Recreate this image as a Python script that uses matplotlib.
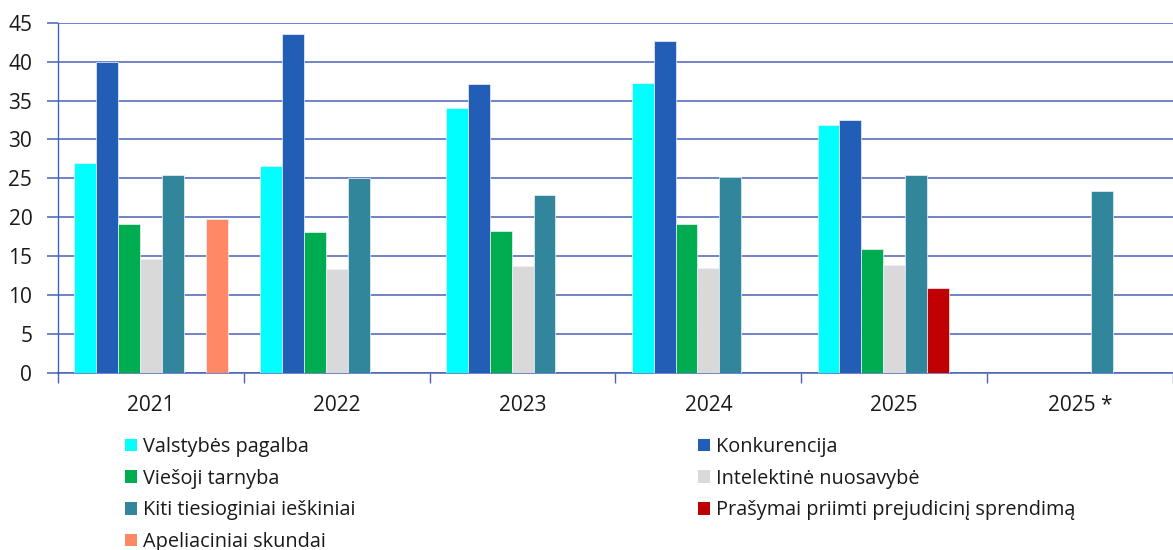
import numpy as np
import matplotlib
matplotlib.use('Agg')
import matplotlib.pyplot as plt
from matplotlib.patches import Patch

plt.rcParams['font.family'] = ['Open Sans', 'DejaVu Sans']

years = ['2021', '2022', '2023', '2024', '2025', '2025 *']
series = ['Valstybės pagalba', 'Konkurencija', 'Viešoji tarnyba',
          'Intelektinė nuosavybė', 'Kiti tiesioginiai ieškiniai',
          'Prašymai priimti prejudicinį sprendimą', 'Apeliaciniai skundai']
colors = ['#00FFFF', '#225EB6', '#00AC50', '#D9D9D9', '#31869B', '#C00000', '#FF8866']

valstybes = [27.0, 26.6, 34.1, 37.2, 31.8, np.nan]
konkurencija = [40.0, 43.6, 37.1, 42.6, 32.5, np.nan]
viesoji = [19.1, 18.1, 18.2, 19.1, 15.9, np.nan]
intelektine = [14.7, 13.4, 13.7, 13.5, 13.9, np.nan]
kiti = [25.4, 25.1, 22.9, 25.2, 25.4, 23.4]
prasymai = [np.nan, np.nan, np.nan, np.nan, 10.9, np.nan]
apeliaciniai = [19.8, np.nan, np.nan, np.nan, np.nan, np.nan]
values = [valstybes, konkurencija, viesoji, intelektine, kiti, prasymai, apeliaciniai]

fig = plt.figure(figsize=(11.73, 5.5), dpi=100)
ax = fig.add_axes([58/1173, 1-373/550, 1-58/1173, (373-22.7)/550])

grid_c = '#4862B8'
txt_c = '#1a1a1a'
x = np.arange(len(years))
w = 0.118
for k, (vals, c) in enumerate(zip(values, colors)):
    ax.bar(x + (k - 3) * w, vals, w, color=c, edgecolor='#eef2fa', linewidth=0.5, zorder=3)

ax.set_xlim(-0.5, len(years) - 0.5)
ax.set_ylim(0, 45)
ax.set_yticks(range(0, 46, 5))
ax.yaxis.grid(True, color=grid_c, linewidth=1.1, zorder=0)
ax.set_axisbelow(True)

ax.set_xticks(np.arange(-0.5, len(years), 1.0))
ax.set_xticklabels([])
ax.set_xticks(x, minor=True)
ax.set_xticklabels(years, minor=True)
ax.tick_params(axis='x', which='major', length=7, color=grid_c, width=1)
ax.tick_params(axis='x', which='minor', length=0, pad=16, labelsize=15, labelcolor=txt_c)
ax.tick_params(axis='y', length=8, color=grid_c, width=1.1, pad=10.5, labelsize=15, labelcolor=txt_c)

for s in ['top', 'right']:
    ax.spines[s].set_visible(False)
ax.spines['left'].set_color(grid_c)
ax.spines['bottom'].set_color(grid_c)
ax.spines['left'].set_linewidth(1)
ax.spines['bottom'].set_linewidth(1.1)

# legend: column-major order so rows read pairwise
order = [0, 2, 4, 6, 1, 3, 5]
handles = [Patch(facecolor=colors[i], label=series[i]) for i in order]
fig.legend(handles=handles, ncol=2, loc='upper left', bbox_to_anchor=(125/1173, 1-437/550),
           frameon=False, fontsize=14.3, handlelength=0.6, handleheight=0.6,
           handletextpad=0.3, columnspacing=17.25, labelspacing=0.59, borderaxespad=0,
           borderpad=0, labelcolor=txt_c)

fig.savefig('out.png', dpi=100)
